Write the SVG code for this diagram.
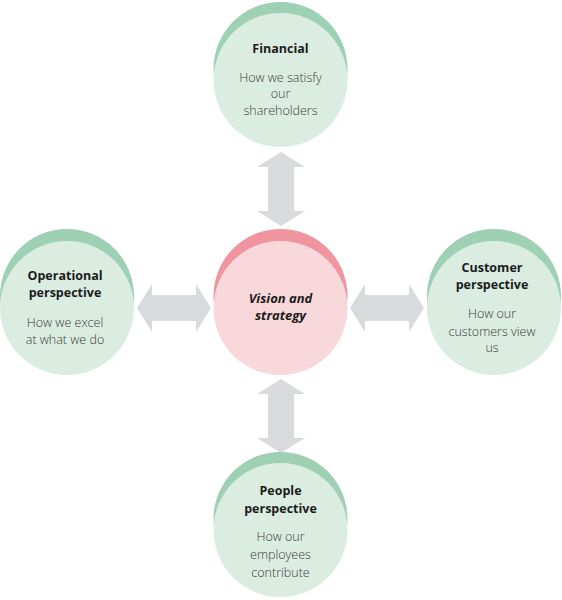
<svg xmlns="http://www.w3.org/2000/svg" width="562" height="600" viewBox="0 0 562 600">
<style>
.gd{fill:#9ed0b4}
.gl{fill:#dbede1}
.pd{fill:#ee95a0}
.pl{fill:#f8d8da}
.arr{fill:#d9dadc}
.t{font-family:"Open Sans","Noto Sans",sans-serif;font-size:12.5px;font-weight:700;fill:#1c1c1c;text-anchor:middle}
.s{font-family:"Open Sans","Noto Sans",sans-serif;font-size:12.5px;font-weight:300;fill:#3a3a3a;text-anchor:middle}
.c{font-family:"Open Sans","Noto Sans",sans-serif;font-size:13px;font-weight:700;font-style:italic;fill:#1c1c1c;text-anchor:middle}
</style>
<rect width="562" height="600" fill="#ffffff"/>
<g id="connectors">
<polygon class="arr" points="281,152 305,167 294,167 294,211 305,211 281,226 257,211 268,211 268,167 257,167"/>
<polygon class="arr" points="281,379 305,394 294,394 294,438 305,438 281,453 257,438 268,438 268,394 257,394"/>
<polygon class="arr" points="137,308 152,284 152,295 196,295 196,284 211,308 196,332 196,321 152,321 152,332"/>
<polygon class="arr" points="350,308 365,284 365,295 409,295 409,284 424,308 409,332 409,321 365,321 365,332"/>
</g>
<g id="vision">
<circle class="pd" cx="280.5" cy="296" r="67"/>
<circle class="pl" cx="280.5" cy="308" r="67"/>
<text class="c" x="280.5" y="303">Vision and</text>
<text class="c" x="280.5" y="320">strategy</text>
</g>
<g id="financial">
<circle class="gd" cx="280.5" cy="69" r="67"/>
<circle class="gl" cx="280.5" cy="80" r="67"/>
<text class="t" x="280.5" y="53">Financial</text>
<text class="s" x="280.5" y="82">How we satisfy</text>
<text class="s" x="280.5" y="98">our</text>
<text class="s" x="280.5" y="115">shareholders</text>
</g>
<g id="operational">
<circle class="gd" cx="67" cy="296" r="67"/>
<circle class="gl" cx="67" cy="308" r="67"/>
<text class="t" x="65" y="280">Operational</text>
<text class="t" x="65" y="297">perspective</text>
<text class="s" x="65" y="327">How we excel</text>
<text class="s" x="65" y="344">at what we do</text>
</g>
<g id="customer">
<circle class="gd" cx="494" cy="296" r="67"/>
<circle class="gl" cx="494" cy="308" r="67"/>
<text class="t" x="492" y="272">Customer</text>
<text class="t" x="492" y="289">perspective</text>
<text class="s" x="492" y="318">How our</text>
<text class="s" x="492" y="336">customers view</text>
<text class="s" x="492" y="352">us</text>
</g>
<g id="people">
<circle class="gd" cx="280.5" cy="519" r="67"/>
<circle class="gl" cx="280.5" cy="530" r="67"/>
<text class="t" x="280.5" y="495">People</text>
<text class="t" x="280.5" y="513">perspective</text>
<text class="s" x="280.5" y="541">How our</text>
<text class="s" x="280.5" y="559">employees</text>
<text class="s" x="280.5" y="577">contribute</text>
</g>
</svg>
